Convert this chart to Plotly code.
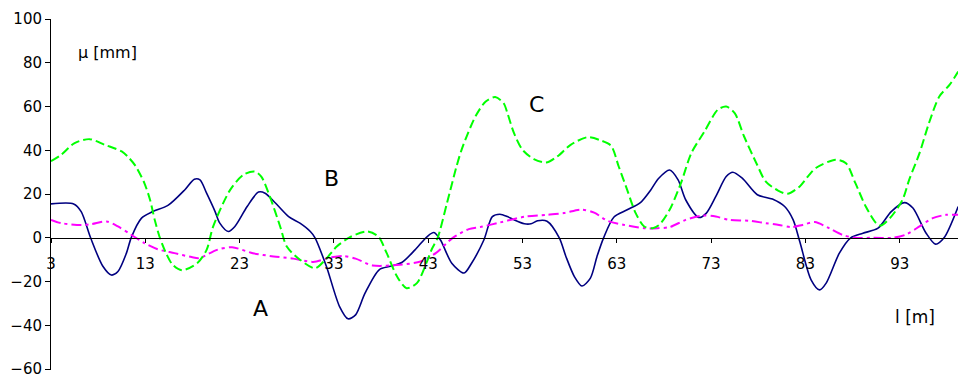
import plotly.graph_objects as go

# Series A: solid navy line
a_x = [3, 5.4, 6.2, 7.2, 8.5, 9.4, 10.1, 11.0, 11.5, 12.6, 13.8, 15.4, 17.2, 18.2, 18.8,
       19.5, 20.4, 20.9, 21.8, 22.5, 23.8, 25.0, 25.7, 26.8, 28.2, 29.4, 30.5, 31.0, 32.2,
       33.6, 34.5, 35.3, 36.3, 37.8, 39.0, 40.2, 41.6, 42.9, 43.6, 44.3, 45.5, 46.8, 47.6,
       48.9, 49.8, 50.6, 51.4, 52.1, 53.2, 53.9, 54.6, 55.6, 56.9, 57.6, 58.5, 59.3, 60.2,
       60.9, 61.6, 62.7, 64.1, 65.5, 66.6, 67.4, 68.6, 69.5, 70.3, 71.7, 72.5, 73.5, 74.6,
       75.3, 76.3, 77.9, 79.5, 80.8, 81.7, 82.4, 83.6, 84.5, 85.2, 86.6, 87.8, 89.1, 90.7,
       92.1, 93.5, 94.4, 95.8, 96.8, 97.7, 99.2]
a_y = [15.5, 15.5, 12, 0, -13, -17, -15.4, -7, 0, 9, 12, 14.8, 22, 26.8, 26.5,
       20.4, 12, 6.7, 2.9, 5.2, 14.3, 20.9, 20.4, 15.9, 9.7, 6.7, 2.9, 0, -13,
       -31.4, -37, -35.2, -25.3, -14.6, -13, -11.3, -5.5, 0.6, 2.4, -1, -11.6, -16.1, -11.6,
       -1, 9.7, 10.8, 9.7, 8.2, 6.4, 6.4, 7.8, 7.6, 0, -8.5, -17.7, -22, -18.4,
       -8.5, 0, 9.5, 12.8, 16.1, 21.9, 27, 31, 26.5, 17.4, 9.3, 11.3, 18.9, 28,
       30, 27.3, 19.7, 17.7, 14.3, 8.2, -1.7, -19.2, -23.8, -20.7, -7, 0, 2.1, 4.4,
       12, 16.1, 13.6, 2.1, -2.9, 0, 14.3]

# Series B: magenta dash-dot line
b_x = [3, 4.1, 6.2, 7.3, 8.9, 10.1, 11.5, 12.9, 14.3, 16.1, 17.9, 18.7, 20.6, 22.2, 24.4,
       26.6, 28.7, 30.8, 32.6, 34.0, 35.3, 37.1, 40.0, 42.2, 43.8, 45.6, 47.3, 48.5, 50.6,
       53.3, 55.6, 57.4, 59.2, 60.6, 62.0, 63.8, 65.9, 67.3, 68.6, 70.3, 72.1, 73.5, 74.9,
       77.0, 78.8, 80.2, 81.5, 82.7, 84.0, 85.5, 86.9, 88.3, 90.1, 92.2, 93.6, 95.1, 96.5,
       97.9, 99.2]
b_y = [8.2, 6.7, 5.9, 6.3, 7.5, 5.2, 1.4, -2.4, -5.2, -7, -8.8, -9.3, -5.5, -4.3, -7,
       -8.5, -9.5, -11, -9, -8.3, -9.5, -12.6, -12.3, -10.8, -7, 0, 4, 4.9, 7,
       9.7, 10.5, 11.3, 12.9, 11.5, 7.8, 5.9, 4.4, 4.4, 4.9, 8.2, 10.2, 9.7, 8.2,
       7.8, 6.7, 5.9, 4.9, 5.9, 7.2, 4.4, 1.4, 0, 0, 0, 1.4, 5.2, 9,
       10.5, 10.5]

# Series C: green dashed line
c_x = [3, 4.1, 5.5, 7.1, 8.7, 10.5, 11.3, 12.0, 12.9, 13.5, 14.0, 14.5, 15.2, 15.9, 16.9,
       18.5, 19.5, 20.2, 22.0, 23.4, 24.6, 25.3, 26.2, 27.3, 28.0, 29.4, 31.0, 32.1, 33.3,
       34.7, 36.5, 37.7, 38.6, 39.7, 40.7, 41.8, 42.8, 43.4, 44.0, 45.0, 46.0, 46.6, 48.0,
       49.1, 50.1, 51.0, 51.4, 52.1, 53.0, 54.2, 55.5, 56.7, 58.1, 59.9, 61.3, 62.4, 63.2,
       64.1, 65.0, 65.9, 66.8, 67.5, 68.6, 69.8, 70.9, 72.3, 73.7, 74.6, 75.5, 76.5, 77.8,
       78.8, 80.1, 81.1, 82.4, 83.4, 84.1, 86.2, 87.3, 88.3, 89.4, 90.5, 91.0, 92.1, 93.3,
       94.0, 95.1, 96.1, 97.2, 98.3, 99.2]
c_y = [35, 38, 43.3, 45.1, 42.5, 39.5, 36.4, 32.6, 25, 17.4, 8.2, 0.6, -7, -12.3, -14.8,
       -11.6, -5.5, 5.2, 21.9, 28.8, 30.3, 28, 18.9, 5.2, -4, -10, -13.9, -10, -4,
       0.3, 2.9, 0.6, -7, -17.7, -23, -20.7, -11.6, -5, 0, 16, 32.6, 41, 55.4,
       62.3, 64.3, 61.5, 57, 47.8, 40.2, 36, 34.4, 37.2, 42.5, 46, 44.5, 42, 32.6,
       21.9, 11.3, 5.2, 4.4, 5.9, 12.8, 25, 38.7, 48.6, 58.5, 60, 57, 46.3, 34.1,
       25.7, 21.6, 20.1, 23.5, 28.8, 31.9, 35.7, 34.1, 25, 14.3, 6.7, 5.6, 9.7, 17.4,
       26.5, 38.7, 52.4, 64.6, 70, 76]

x_ticks = [3, 13, 23, 33, 43, 53, 63, 73, 83, 93]
y_ticks = [-60, -40, -20, 0, 20, 40, 60, 80, 100]

FONT = "DejaVu Sans"

fig = go.Figure()
fig.add_trace(go.Scatter(x=a_x, y=a_y, mode="lines", name="A",
                         line=dict(color="#000080", width=1.6, shape="spline", smoothing=0.8)))
fig.add_trace(go.Scatter(x=b_x, y=b_y, mode="lines", name="B",
                         line=dict(color="#FF00FF", width=2, dash="10px,4px,3px,4px",
                                   shape="spline", smoothing=0.8)))
fig.add_trace(go.Scatter(x=c_x, y=c_y, mode="lines", name="C",
                         line=dict(color="#00FF00", width=2, dash="9px,4px",
                                   shape="spline", smoothing=0.8)))

labels = [
    dict(text="μ [mm]", x=9.0, y=84.6, size=16),
    dict(text="B", x=32.7, y=27.0, size=22),
    dict(text="C", x=54.45, y=60.9, size=22),
    dict(text="A", x=25.25, y=-32.1, size=22),
    dict(text="l [m]", x=94.6, y=-36.3, size=17),
]
for lb in labels:
    fig.add_annotation(text=lb["text"], x=lb["x"], y=lb["y"], xref="x", yref="y",
                       showarrow=False, xanchor="center", yanchor="middle",
                       font=dict(family=FONT, size=lb["size"], color="black"))

# y range padded slightly below -60 so the bottom tick sits just inside
Y_LO, Y_HI = -60.4, 100
fig.update_layout(
    width=958, height=374,
    margin=dict(l=51, r=0, t=19, b=4, autoexpand=False),
    paper_bgcolor="white", plot_bgcolor="white",
    showlegend=False,
    font=dict(family=FONT, size=15, color="black"),
    xaxis=dict(range=[3, 99.18], tickvals=x_ticks, ticktext=[str(v) for v in x_ticks],
               showgrid=False, zeroline=False, showline=True, linecolor="black", linewidth=1,
               ticks="outside", ticklen=4, tickcolor="black", anchor="free",
               position=(0 - Y_LO) / (Y_HI - Y_LO),
               ticklabelstandoff=8, automargin=False),
    yaxis=dict(range=[Y_LO, Y_HI], tickvals=y_ticks, showgrid=False, zeroline=False,
               showline=True, linecolor="black", linewidth=1,
               ticks="outside", ticklen=5, tickcolor="black",
               ticklabeloverflow="allow", automargin=False),
)

fig.write_html("out.html")
